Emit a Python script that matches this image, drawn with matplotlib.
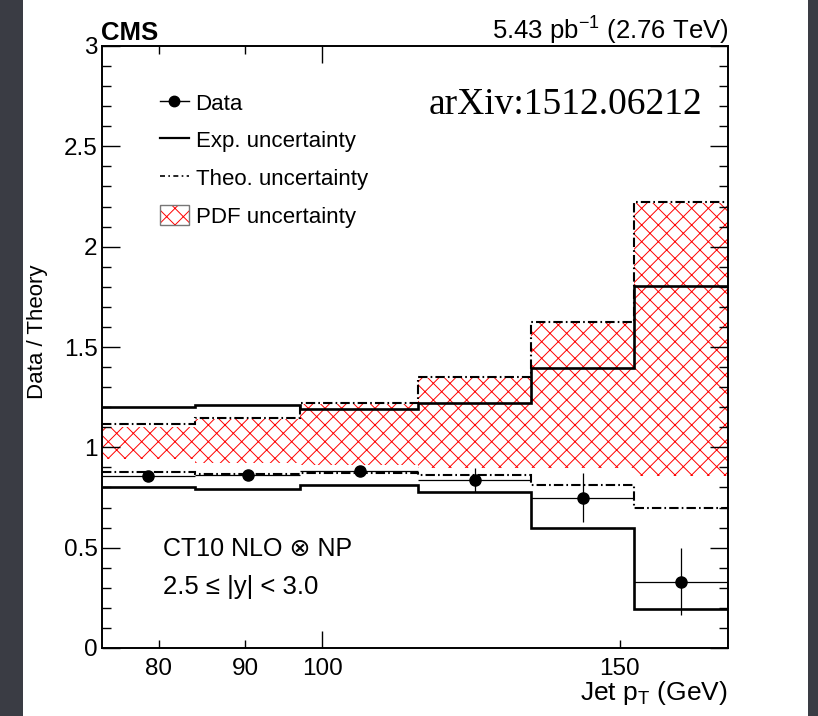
import matplotlib
matplotlib.use("Agg")
import matplotlib.pyplot as plt
from matplotlib.lines import Line2D
from matplotlib.patches import Patch, Rectangle
from matplotlib.ticker import FixedLocator, FixedFormatter, NullFormatter, NullLocator
import numpy as np

plt.rcParams["font.family"] = ["Liberation Sans", "DejaVu Sans"]
plt.rcParams["mathtext.fontset"] = "custom"
plt.rcParams["mathtext.rm"] = "Liberation Sans"
plt.rcParams["mathtext.it"] = "Liberation Sans:italic"
plt.rcParams["hatch.linewidth"] = 0.7

# jet pT bins (GeV)
bin_edges = [74, 84, 97, 114, 133, 153, 174]
bin_centers = [78.8, 90.3, 105.2, 123.1, 142.7, 163.2]

# data / theory ratio
data_ratio = [0.857, 0.862, 0.882, 0.837, 0.747, 0.329]
data_err_lo = [0.015, 0.015, 0.015, 0.060, 0.119, 0.165]
data_err_hi = [0.015, 0.015, 0.015, 0.060, 0.125, 0.169]

# experimental uncertainty band
exp_hi = [1.201, 1.211, 1.191, 1.221, 1.395, 1.804]
exp_lo = [0.802, 0.792, 0.812, 0.775, 0.598, 0.194]

# theory uncertainty band
theo_hi = [1.116, 1.146, 1.221, 1.350, 1.624, 2.222]
theo_lo = [0.877, 0.867, 0.872, 0.862, 0.812, 0.698]

# PDF uncertainty band
pdf_hi = [1.101, 1.142, 1.217, 1.346, 1.620, 2.218]
pdf_lo = [0.942, 0.922, 0.912, 0.897, 0.897, 0.857]

x_ticks = [80, 90, 100, 150]
x_tick_labels = ["80", "90", "100", "150"]
y_ticks = [0, 0.5, 1, 1.5, 2, 2.5, 3]
y_tick_labels = ["0", "0.5", "1", "1.5", "2", "2.5", "3"]

W, H = 818, 716
fig = plt.figure(figsize=(W / 100, H / 100), dpi=100)
fig.patch.set_facecolor("white")

# dark slide border on both sides
fig.patches.append(Rectangle((0, 0), 23 / W, 1, transform=fig.transFigure,
                             facecolor="#3a3c44", edgecolor="none", zorder=-10))
fig.patches.append(Rectangle((808 / W, 0), 10 / W, 1, transform=fig.transFigure,
                             facecolor="#3a3c44", edgecolor="none", zorder=-10))

ax = fig.add_axes([101.7 / W, 1 - 648 / H, 626.6 / W, 602 / H])

dashdot = (0, (4.5, 1.5, 0.8, 1.5))
ax.stairs(pdf_hi, bin_edges, baseline=pdf_lo, fill=True, facecolor="none",
          edgecolor="red", hatch="xx", linewidth=0, zorder=1)
ax.stairs(theo_hi, bin_edges, baseline=None, color="black", lw=1.5,
          linestyle=dashdot, zorder=2)
ax.stairs(theo_lo, bin_edges, baseline=None, color="black", lw=1.5,
          linestyle=dashdot, zorder=2)
ax.stairs(exp_hi, bin_edges, baseline=None, color="black", lw=1.9, zorder=3)
ax.stairs(exp_lo, bin_edges, baseline=None, color="black", lw=1.9, zorder=3)

x_err = [np.subtract(bin_centers, bin_edges[:-1]), np.subtract(bin_edges[1:], bin_centers)]
ax.errorbar(bin_centers, data_ratio, yerr=[data_err_lo, data_err_hi], xerr=x_err,
            fmt="o", color="black", ms=8, elinewidth=0.9, capsize=0, zorder=4)

ax.set_xscale("log")
ax.set_xlim(74, 174)
ax.set_ylim(0, 3)

ax.xaxis.set_major_locator(FixedLocator(x_ticks))
ax.xaxis.set_major_formatter(FixedFormatter(x_tick_labels))
ax.xaxis.set_minor_locator(NullLocator())
ax.xaxis.set_minor_formatter(NullFormatter())
ax.yaxis.set_major_locator(FixedLocator(y_ticks))
ax.set_yticklabels(y_tick_labels)
ax.yaxis.set_minor_locator(FixedLocator(np.arange(0.1, 3.0, 0.1)))

ax.tick_params(axis="both", which="both", direction="in", labelsize=17.5, width=1.0)
ax.tick_params(axis="y", which="major", length=13, right=True, pad=3)
ax.tick_params(axis="y", which="minor", length=6.5, right=True)
ax.tick_params(axis="x", which="major", length=6, top=True, pad=7)
for side in ax.spines.values():
    side.set_linewidth(1.4)

# 100 gets a longer tick, as in the original
for t, v in zip(ax.xaxis.get_major_ticks(), x_ticks):
    if v == 100:
        t.tick1line.set_markersize(12.5)
        t.tick2line.set_markersize(12.5)
    if v == 150:
        t.tick2line.set_visible(False)

fig.text(38 / W, 1 - 332 / H, "Data / Theory", rotation=90, ha="center", va="center", fontsize=16)
fig.text(728 / W, 1 - 700 / H, "Jet p$_{\\mathrm{T}}$ (GeV)", ha="right", va="baseline", fontsize=19)
fig.text(101 / W, 1 - 40 / H, "CMS", ha="left", va="baseline", fontsize=18.5, fontweight="bold")
fig.text(729 / W, 1 - 40 / H, "5.43 pb$^{\\mathrm{-1}}$ (2.76 TeV)", ha="right", va="baseline",
         fontsize=18.5)
fig.text(429 / W, 1 - 114 / H, "arXiv:1512.06212", ha="left", va="baseline", fontsize=27,
         family="Liberation Serif")
fig.text(163 / W, 1 - 556 / H, "CT10 NLO \u2297 NP", ha="left", va="baseline", fontsize=18)
fig.text(163 / W, 1 - 594 / H, "2.5 \u2264 |y| < 3.0", ha="left", va="baseline", fontsize=18.5)

pdf_handle = (Patch(facecolor="white", edgecolor="red", hatch="xx", linewidth=0),
              Patch(facecolor="none", edgecolor="#777777", linewidth=1.0))
handles = [
    Line2D([], [], color="black", marker="o", ms=7.5, lw=1.0),
    Line2D([], [], color="black", lw=1.6),
    Line2D([], [], color="black", lw=1.2, linestyle=(0, (3, 2, 1, 2))),
    pdf_handle,
]
labels = ["Data", "Exp. uncertainty", "Theo. uncertainty", "PDF uncertainty"]
leg = ax.legend(handles, labels, loc="upper left", bbox_to_anchor=(160 / W, 1 - 92 / H),
                bbox_transform=fig.transFigure, frameon=False, fontsize=16,
                handlelength=1.3, handleheight=1.0, handletextpad=0.3, labelspacing=0.68,
                borderpad=0, borderaxespad=0)

fig.savefig("out.png", dpi=100)
